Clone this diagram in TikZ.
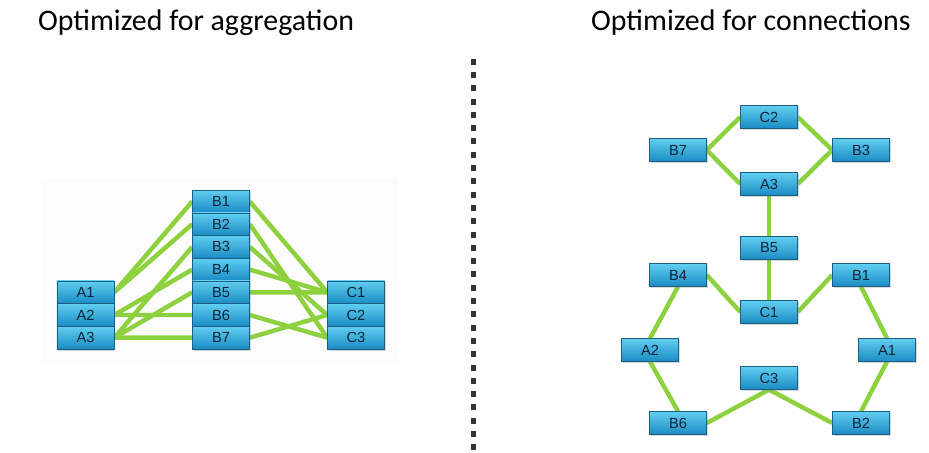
\documentclass[tikz,border=0pt]{standalone}
\usepackage{fontspec}
\setmainfont{Carlito}
\newfontfamily\boxfont{Liberation Sans}
\usetikzlibrary{shadows,backgrounds}
\definecolor{linkgreen}{RGB}{141,210,62}
\definecolor{boxtop}{RGB}{96,206,240}
\definecolor{boxbottom}{RGB}{26,140,196}
\definecolor{boxborder}{RGB}{30,94,130}
\definecolor{boxtext}{RGB}{12,36,56}
\definecolor{sepgray}{RGB}{51,51,51}
\begin{document}
\begin{tikzpicture}[x=0.03cm,y=-0.03cm,
  box/.style={draw=boxborder, line width=0.5pt, top color=boxtop, bottom color=boxbottom,
    minimum width=1.71cm, minimum height=0.68cm, inner sep=0pt,
    font=\boxfont\fontsize{12.5}{14}\selectfont, text=boxtext,
    drop shadow={shadow xshift=1.2pt, shadow yshift=-1.5pt, opacity=0.3}},
  link/.style={draw=linkgreen, line width=3.8pt},
  title/.style={anchor=base west, font=\fontsize{25.5}{30}\selectfont}]
  \useasboundingbox (0,0) rectangle (929,453);
  \node[title] (ltitle) at (34,31) {Optimized for aggregation};
  \node[title] (rtitle) at (587,31) {Optimized for connections};
  \draw[sepgray, line width=5.1pt, dash pattern=on 5.1pt off 6.25pt] (473.5,58.7) -- (473.5,453);
  % left: stacked columns
  \foreach \i in {1,...,7}
    \node[box] (lb\i) at (221,{178.8+22.7*\i}) {B\i};
  \foreach \i in {1,2,3} {
    \node[box] (la\i) at (85.5,{269.6+22.7*\i}) {A\i};
    \node[box] (lc\i) at (356,{269.6+22.7*\i}) {C\i};
  }
  % right: ring layout
  \foreach \lab/\x/\y in {C2/769/117, B7/678/150, B3/861/150, A3/769/184, B5/769/248,
      B4/678/275, B1/861/275, C1/769/312, A2/650/350, A1/887/350, C3/769/378,
      B6/678/423, B2/861/423}
    \node[box] (r\lab) at (\x,\y) {\lab};
  \begin{scope}[on background layer]
    \fill[black!1] (41,178) rectangle (398,362);
    \foreach \s/\t in {la1/lb1, la1/lb2, la2/lb4, la2/lb6, la3/lb3, la3/lb5, la3/lb7,
        lb1/lc1, lb2/lc3, lb3/lc2, lb4/lc1, lb5/lc1, lb6/lc3, lb7/lc2}
      \draw[link] (\s.east) -- (\t.west);
    \foreach \s/\t in {rC2.west/rB7.east, rB7.east/rA3.west, rC2.east/rB3.west,
        rA3.east/rB3.west, rA3.south/rB5.north, rB5.south/rC1.north,
        rB4.east/rC1.west, rC1.east/rB1.west, rB4.south/rA2.north,
        rA2.south/rB6.north, rB1.south/rA1.north, rA1.south/rB2.north,
        rC3.south/rB6.east, rC3.south/rB2.west}
      \draw[link] (\s) -- (\t);
  \end{scope}
\end{tikzpicture}
\end{document}
